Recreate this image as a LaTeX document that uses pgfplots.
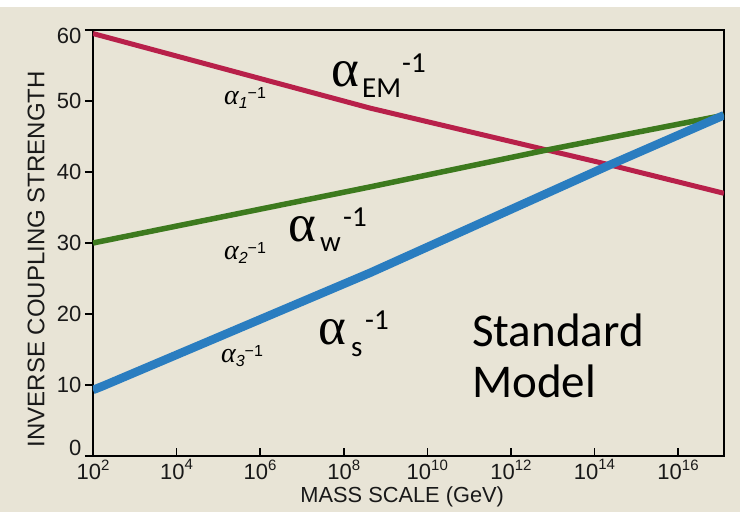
\documentclass[border=0pt]{standalone}
\usepackage{pgfplots}
\pgfplotsset{compat=1.18}
\usepackage{fontspec}
\setmainfont{Liberation Sans}
\newfontfamily\carlito{Carlito}
\newfontfamily\symfont{Liberation Serif}
\definecolor{bg}{HTML}{E8E4D6}
\definecolor{cred}{HTML}{B8204A}
\definecolor{cgreen}{HTML}{3D7A1E}
\definecolor{cblue}{HTML}{2A7DC0}
\newcommand\tp[1]{10\raisebox{0.42em}{\fontsize{15}{15}\selectfont #1}}
\newcommand\sa[1]{{\symfont\itshape\fontsize{28}{28}\selectfont α}\raisebox{-0.35em}{\fontsize{16}{16}\selectfont\itshape #1}\raisebox{0.6em}{\fontsize{16}{16}\selectfont −1}}
\begin{document}
\begin{tikzpicture}[x=1pt,y=1pt]
\fill[white] (-93,-56) rectangle (647,456);
\fill[bg] (-93,-56) rectangle (647,449);
\begin{axis}[
  at={(0,0)}, anchor=south west, scale only axis,
  width=631pt, height=426pt,
  xmode=log, xmin=1e2, xmax=1.259e17, ymin=0, ymax=60,
  axis line style={line width=2.8pt, black},
  tick style={line width=1.6pt, black},
  major tick length=8pt,
  tick pos=left,
  xtick align=inside, ytick align=outside,
  xminorticks=false,
  xtick={1e2,1e4,1e6,1e8,1e10,1e12,1e14,1e16},
  xticklabels={\tp{2},\tp{4},\tp{6},\tp{8},\tp{10},\tp{12},\tp{14},\tp{16}},
  ytick={0,10,20,30,40,50,60},
  yticklabels={\raisebox{8pt}[\height][\depth]{0},10,20,30,40,50,\raisebox{-6pt}[\height][\depth]{60}},
  /pgf/number format/assume math mode=true,
  tick label style={font=\fontsize{22}{22}\selectfont, text=black!90},
  xlabel={MASS SCALE (GeV)},
  xlabel style={font=\fontsize{21.8}{21.8}\selectfont, text=black!90, at={(axis description cs:0.49,0)}, anchor=base, yshift=-46pt},
  ylabel={INVERSE COUPLING STRENGTH},
  ylabel style={font=\fontsize{24}{24}\selectfont, text=black!90, at={(axis description cs:-0.09,0.462)}, anchor=center},
]
\addplot[cred, line width=5pt, line join=round] coordinates {
  (1e2,59.5) (4.27e8,49.0) (7.24e12,43.1) (2.34e14,41.0) (1.259e17,37.0)};
\addplot[cgreen, line width=5.5pt, line join=round] coordinates {
  (1e2,30.0) (4.27e8,37.9) (7.24e12,43.1) (1.259e17,48.0)};
\addplot[cblue, line width=8.5pt, line join=round] coordinates {
  (1e2,9.3) (1.8e2,9.9) (4.27e8,25.8) (2.34e14,41.0) (1.259e17,48.0)};
\end{axis}
% small labels
\node[inner sep=0] at (152,358) {\sa{1}};
\node[inner sep=0] at (152,203) {\sa{2}};
\node[inner sep=0] at (149,100) {\sa{3}};
% large labels
\node[inner sep=0, anchor=base west, font=\symfont\fontsize{53}{53}\selectfont] at (238,369) {α};
\node[inner sep=0, anchor=base west, font=\carlito\fontsize{29}{29}\selectfont] at (269,358) {EM};
\node[inner sep=0, anchor=base west, font=\carlito\fontsize{29}{29}\selectfont] at (309,383) {-1};
\node[inner sep=0, anchor=base west, font=\symfont\fontsize{53}{53}\selectfont] at (195,214) {α};
\node[inner sep=0, anchor=base west, font=\carlito\fontsize{29}{29}\selectfont] at (227,204) {w};
\node[inner sep=0, anchor=base west, font=\carlito\fontsize{29}{29}\selectfont] at (250,229) {-1};
\node[inner sep=0, anchor=base west, font=\symfont\fontsize{53}{53}\selectfont] at (225,111) {α};
\node[inner sep=0, anchor=base west, font=\carlito\fontsize{29}{29}\selectfont] at (258,99) {s};
\node[inner sep=0, anchor=base west, font=\carlito\fontsize{29}{29}\selectfont] at (272,126) {-1};
\node[inner sep=0, anchor=base west, font=\carlito\fontsize{47}{47}\selectfont] at (379,109) {Standard};
\node[inner sep=0, anchor=base west, font=\carlito\fontsize{47}{47}\selectfont] at (379,58) {Model};
\end{tikzpicture}
\end{document}
